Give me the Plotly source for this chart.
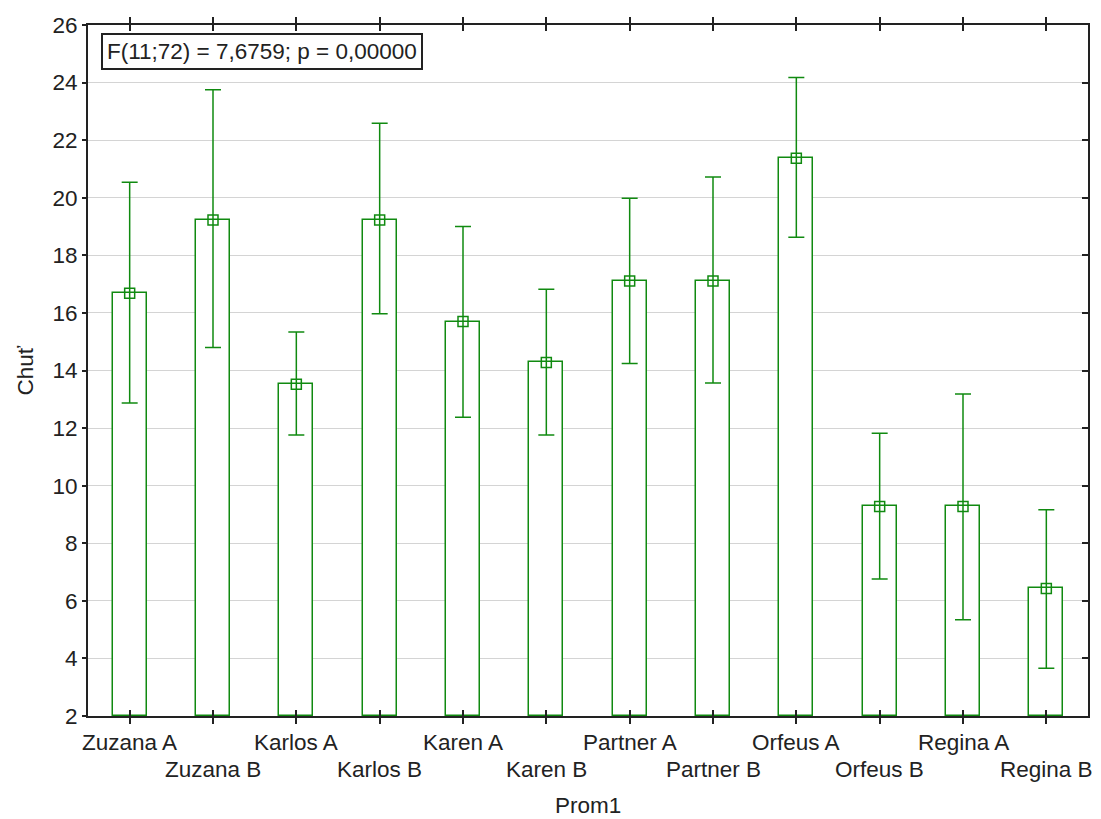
import plotly.graph_objects as go

categories = ["Zuzana A", "Zuzana B", "Karlos A", "Karlos B", "Karen A", "Karen B",
              "Partner A", "Partner B", "Orfeus A", "Orfeus B", "Regina A", "Regina B"]
means = [16.68, 19.23, 13.52, 19.23, 15.70, 14.28, 17.11, 17.11, 21.37, 9.28, 9.28, 6.43]
ci_upper = [20.54, 23.75, 15.34, 22.59, 19.00, 16.82, 19.98, 20.72, 24.18, 11.82, 13.18, 9.16]
ci_lower = [12.87, 14.80, 11.76, 15.97, 12.38, 11.76, 14.24, 13.57, 18.63, 6.76, 5.34, 3.66]
y_ticks = [2, 4, 6, 8, 10, 12, 14, 16, 18, 20, 22, 24, 26]
annotation_text = "F(11;72) = 7,6759; p = 0,00000"
x_title = "Prom1"
y_title = "Chuť"

base_val = 2
green = "#108a10"
font_family = "Liberation Sans, Arial, sans-serif"
fs = 22.5

xs = list(range(len(categories)))

fig = go.Figure()
fig.add_trace(go.Bar(
    x=xs, y=[m - base_val for m in means], base=base_val, width=0.41,
    marker=dict(color="white", line=dict(color=green, width=1.5)),
    showlegend=False, hoverinfo="skip"))
fig.add_trace(go.Scatter(
    x=xs, y=means, mode="markers",
    marker=dict(symbol="square-open", size=10, color=green, line=dict(width=1.5, color=green)),
    error_y=dict(type="data", symmetric=False,
                 array=[u - m for u, m in zip(ci_upper, means)],
                 arrayminus=[m - l for m, l in zip(means, ci_lower)],
                 color=green, thickness=1.5, width=8),
    showlegend=False))
fig.add_trace(go.Scatter(x=[None], y=[None], yaxis="y2", showlegend=False, hoverinfo="skip"))

annotations = []
for i, c in enumerate(categories):
    annotations.append(dict(x=i, y=0, xref="x", yref="paper", text=c, showarrow=False,
                            yanchor="middle", xanchor="center",
                            yshift=-26 if i % 2 == 0 else -53,
                            font=dict(family=font_family, size=fs, color="#222")))
annotations.append(dict(x=0.5, y=0, xref="paper", yref="paper", text=x_title, showarrow=False,
                        yanchor="middle", xanchor="center", yshift=-89,
                        font=dict(family=font_family, size=fs, color="#222")))
annotations.append(dict(x=0, y=0.5, xref="paper", yref="paper", text=y_title, showarrow=False,
                        yanchor="middle", xanchor="center", xshift=-63, textangle=-90,
                        font=dict(family=font_family, size=fs, color="#222")))
annotations.append(dict(x=0, y=1, xref="paper", yref="paper", text=annotation_text, showarrow=False,
                        xanchor="left", yanchor="top", xshift=13, yshift=-8,
                        bordercolor="#222", borderwidth=2, borderpad=4, bgcolor="white",
                        font=dict(family=font_family, size=fs, color="#222")))

fig.update_layout(
    width=1101, height=819,
    margin=dict(l=88, r=13, t=25, b=103),
    paper_bgcolor="white", plot_bgcolor="white",
    font=dict(family=font_family, size=fs, color="#222"),
    bargap=0,
    xaxis=dict(range=[-0.5, len(categories) - 0.5], tickvals=xs, showticklabels=False,
               ticks="inside", ticklen=6, tickcolor="#222", tickwidth=1.5,
               mirror="allticks", showline=True, linecolor="#222", linewidth=2,
               showgrid=False, zeroline=False, layer="above traces"),
    yaxis=dict(range=[2, 26], tickvals=y_ticks, ticks="outside", ticklen=4, tickcolor="#222",
               tickwidth=1.5, showline=True, linecolor="#222", linewidth=2, mirror=True,
               showgrid=True, gridcolor="#d4d4d4", gridwidth=1, zeroline=False,
               tickfont=dict(family=font_family, size=fs, color="#222")),
    yaxis2=dict(range=[2, 26], tickvals=y_ticks, overlaying="y", side="right", anchor="x",
                ticks="inside", ticklen=6, tickcolor="#222", tickwidth=1.5,
                showticklabels=False, showgrid=False, showline=False, zeroline=False),
    annotations=annotations,
)

fig.write_html("out.html")
